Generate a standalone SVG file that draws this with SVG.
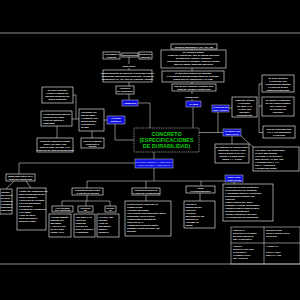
<svg xmlns="http://www.w3.org/2000/svg" width="300" height="300" viewBox="0 0 300 300">
<style>
.bx{fill:#000;stroke:#e6e6e6;stroke-width:0.65}
.bl{fill:#1010e0;stroke:#a8a8a8;stroke-width:0.6}
.c{fill:none;stroke:#d0d0d0;stroke-width:0.6}
.t{font-family:"Liberation Sans",Arial,sans-serif;font-size:2.4px;fill:#ffffff;font-weight:bold}
.m{text-anchor:middle}
.w{font-family:"Liberation Sans",Arial,sans-serif;font-size:2.4px;fill:#ffffff;text-anchor:middle;font-weight:bold}
.g{font-family:"Liberation Sans",Arial,sans-serif;font-size:5.3px;fill:#10d010;text-anchor:middle;font-weight:bold}
</style>
<rect width="300" height="300" fill="#000"/>
<line x1="0" y1="33" x2="300" y2="33" stroke="#b0b0b0" stroke-width="0.8"/>
<line x1="0" y1="264" x2="300" y2="264" stroke="#b0b0b0" stroke-width="0.8"/>

<g id="connectors" class="c">
<path d="M120,55 H122 M138,55 H139 M129,57 V64 M129,68 V70 M129,82 V86 M129,94 V100"/>
<path d="M138,103 H150 V128"/>
<path d="M192,49 V50 M192,68 V71 M192,82 V84 M192,91 V94 M192,99 V101"/>
<path d="M193,107 V128"/>
<path d="M259,84 H262 M259,84 V132.5 M259,106 H262 M259,132.5 H263"/>
<path d="M229,108 H232 M218,112 V132.5 M223,132.5 H199"/>
<path d="M232,136 V144 M241,136 L253,147"/>
<path d="M73,95 H76 V119 M72,119 H79 M104,120 H107 M57,126 V138 M92,131 V138"/>
<path d="M115,124 V140 H134"/>
<path d="M154,152 V159 M154,168 V181"/>
<path d="M19,163 H135 M19,163 V174 M14,181 L6,189 M26,181 L31,188"/>
<path d="M87,181 H225 M87,181 V188 M146,181 V188 M201,181 V186"/>
<path d="M87,195 V201 M62,201 H110 M62,201 V206 M86,201 V206 M110,201 V206"/>
<path d="M146,195 V201 M200,193 V201 M234,182 V184"/>
</g>

<g id="n-agregados"><rect class="bx" x="103" y="52" width="17" height="7"/><text class="t m" x="111.5" y="55">Agregados y</text><text class="t m" x="111.5" y="58">cemento</text></g>
<g id="n-dosif"><rect class="bx" x="122" y="53" width="16" height="4"/><text class="t m" x="130" y="56">Dosificación</text></g>
<g id="n-mezcla"><rect class="bx" x="139" y="52" width="13" height="7"/><text class="t m" x="145.5" y="55">Mezcla de</text><text class="t m" x="145.5" y="58">concreto</text></g>
<text class="t m" x="129" y="67">para cubrir</text>
<g id="n-requer"><rect class="bx" x="103" y="70" width="49" height="12"/><text class="t m" x="127.5" y="73.5">Requerimientos de acuerdo a la norma E.060 y</text><text class="t m" x="127.5" y="76.5">exigencias especiales del proyecto, en base a</text><text class="t m" x="127.5" y="79.5">parámetros (f'c, a/c, tipo de cemento, curado)</text></g>
<g id="n-factores"><rect class="bx" x="116" y="86" width="18" height="8"/><text class="t m" x="125" y="89">Factores</text><text class="t m" x="125" y="92">de exposición</text></g>
<g id="b-ambiente"><rect class="bl" x="122" y="100" width="16" height="6"/><text class="w" x="130" y="103.8">AMBIENTE</text></g>

<g id="r1"><rect class="bx" x="171" y="44" width="46" height="5"/><text class="t m" x="194" y="47.5">Bloques ampliados (ATC | 36 | 38)</text></g>
<g id="r2"><rect class="bx" x="161" y="50" width="65" height="18"/><text class="t m" x="193.5" y="53">Se clasifica según:</text><text class="t m" x="193.5" y="56">Grado de exposición, tipo de agente agresivo</text><text class="t m" x="193.5" y="59">Su ambiente: marino, industrial</text><text class="t m" x="193.5" y="62">Concentraciones de sulfatos, cloruros, ácidos,</text><text class="t m" x="193.5" y="65">(suelos, aguas, ambiente agresivo)</text></g>
<g id="r3"><rect class="bx" x="162" y="71" width="62" height="11"/><text class="t m" x="193" y="74">Se aplicará relación a/c máxima</text><text class="t m" x="193" y="77">y resistencia mínima según tabla de la norma,</text><text class="t m" x="193" y="80">según tipo de exposición (ACI 318)</text></g>
<g id="r4"><rect class="bx" x="172" y="84" width="44" height="7"/><text class="t m" x="194" y="87">Uso de aire incluido, cemento tipo,</text><text class="t m" x="194" y="90">aditivos, curado y protección</text></g>
<text class="t m" x="192" y="97.5">Durabilidad</text>
<g id="b-ataque"><rect class="bl" x="186" y="101" width="15" height="6"/><text class="w" x="193.5" y="104.8">ATAQUE</text></g>

<g id="r5"><rect class="bx" x="262" y="75" width="32" height="17"/><text class="t m" x="278" y="78.5">Se debe proteger</text><text class="t m" x="278" y="81.5">el refuerzo con</text><text class="t m" x="278" y="84.5">recubrimiento mínimo</text><text class="t m" x="278" y="87.5">y concreto denso</text><text class="t m" x="278" y="90.5">(baja permeabilidad)</text></g>
<g id="r6"><rect class="bx" x="232" y="97" width="25" height="20"/><text class="t m" x="244.5" y="100.5">Ambiente marino</text><text class="t m" x="244.5" y="103.5">y cloruros:</text><text class="t m" x="244.5" y="106.5">a/c máx. 0.40</text><text class="t m" x="244.5" y="109.5">f'c mín. 350</text><text class="t m" x="244.5" y="112.5">kg/cm2 y</text><text class="t m" x="244.5" y="115.5">recubrimiento</text></g>
<g id="r7"><rect class="bx" x="262" y="97" width="32" height="19"/><text class="t m" x="278" y="100.5">Se limita el contenido</text><text class="t m" x="278" y="103.5">de ión cloruro soluble</text><text class="t m" x="278" y="106.5">en el concreto</text><text class="t m" x="278" y="109.5">(% en peso del</text><text class="t m" x="278" y="112.5">cemento)</text></g>
<g id="b-corrosion"><rect class="bl" x="212" y="105" width="17" height="7"/><text class="w" x="220.5" y="108">CORROSIÓN</text><text class="w" x="220.5" y="110.8">DEL ACERO</text></g>
<g id="r8"><rect class="bx" x="263" y="126" width="32" height="12"/><text class="t m" x="279" y="129.5">Uso de cementos tipo</text><text class="t m" x="279" y="132.5">II o V, con puzolanas</text><text class="t m" x="279" y="135.5">o escorias</text></g>
<g id="b-sulfatos"><rect class="bl" x="223" y="129" width="18" height="7"/><text class="w" x="232" y="132">ATAQUE POR</text><text class="w" x="232" y="134.8">SULFATOS</text></g>
<g id="r9"><rect class="bx" x="215" y="144" width="34" height="19"/><text class="t m" x="232" y="147.5">Se clasifica en: despreciable,</text><text class="t m" x="232" y="150.5">moderado, severo y muy</text><text class="t m" x="232" y="153.5">severo según % de SO4</text><text class="t m" x="232" y="156.5">soluble en agua (ppm)</text><text class="t m" x="232" y="159.5">(Tabla 4.4 - E.060)</text></g>
<g id="r10"><rect class="bx" x="253" y="147" width="46" height="24"/><text class="t" x="255" y="150.5">▪ a/c máx. 0.50 (moderado)</text><text class="t" x="255" y="153.5">  f'c mín. 280 kg/cm2</text><text class="t" x="255" y="156.5">▪ a/c máx. 0.45 (severo y</text><text class="t" x="255" y="159.5">  muy severo), f'c mín. 315</text><text class="t" x="255" y="162.5">▪ Cemento tipo II, V o</text><text class="t" x="255" y="165.5">  tipo V + puzolana</text><text class="t" x="255" y="168.5">▪ Curado adecuado</text></g>
<g id="b-abrasion"><rect class="bl" x="225" y="175" width="18" height="7"/><text class="w" x="234" y="178">DESGASTE</text><text class="w" x="234" y="180.8">(ABRASIÓN)</text></g>
<g id="r11"><rect class="bx" x="223" y="184" width="50" height="37"/><text class="t" x="225" y="187.5">▪ Concreto de alta resistencia</text><text class="t" x="225" y="190.5">  en la superficie de desgaste</text><text class="t" x="225" y="193.5">▪ Agregados duros y resistentes</text><text class="t" x="225" y="196.5">  a la abrasión (ensayo Los</text><text class="t" x="225" y="199.5">  Ángeles)</text><text class="t" x="225" y="202.5">▪ Baja relación a/c, buen</text><text class="t" x="225" y="205.5">  acabado y curado prolongado</text><text class="t" x="225" y="208.5">▪ Endurecedores superficiales</text><text class="t" x="225" y="211.5">  en pisos industriales</text><text class="t" x="225" y="214.5">▪ Evitar exudación excesiva</text><text class="t" x="225" y="217.5">▪ f'c según uso del pavimento</text></g>

<g id="lu1"><rect class="bx" x="42" y="87" width="31" height="16"/><text class="t m" x="57.5" y="90.5">Se debe proteger</text><text class="t m" x="57.5" y="93.5">contra el ataque de</text><text class="t m" x="57.5" y="96.5">agentes químicos del</text><text class="t m" x="57.5" y="99.5">medio ambiente</text></g>
<g id="lu2"><rect class="bx" x="41" y="111" width="31" height="15"/><text class="t" x="43" y="114.5">▪ Permeabilidad baja del</text><text class="t" x="43" y="117.5">  concreto (a/c baja)</text><text class="t" x="43" y="120.5">▪ Uso de aditivos y</text><text class="t" x="43" y="123.5">  puzolanas</text></g>
<g id="lu3"><rect class="bx" x="79" y="109" width="25" height="22"/><text class="t" x="81" y="112.5">▪ Depende del</text><text class="t" x="81" y="115.5">  tipo de agua</text><text class="t" x="81" y="118.5">▪ Contacto con</text><text class="t" x="81" y="121.5">  aguas ácidas,</text><text class="t" x="81" y="124.5">  residuales o</text><text class="t" x="81" y="127.5">  de mar</text></g>
<g id="lu4"><rect class="bx" x="37" y="138" width="36" height="14"/><text class="t m" x="55" y="141.5">Concreto expuesto a agua</text><text class="t m" x="55" y="144.5">dulce: a/c máx. 0.50</text><text class="t m" x="55" y="147.5">agua de mar: a/c máx. 0.40</text><text class="t m" x="55" y="150.5">(concreto de baja permeabilidad)</text></g>
<g id="lu5"><rect class="bx" x="81" y="138" width="23" height="10"/><text class="t m" x="92.5" y="141.5">Uso de cemento</text><text class="t m" x="92.5" y="144.5">resistente a</text><text class="t m" x="92.5" y="147">ácidos</text></g>
<g id="b-quimico"><rect class="bl" x="107" y="116" width="18" height="8"/><text class="w" x="116" y="119.3">ATAQUE</text><text class="w" x="116" y="122.3">QUÍMICO</text></g>

<g id="central"><rect x="134" y="128" width="65" height="24" fill="#000" stroke="#c8c8c8" stroke-width="0.7" stroke-dasharray="1,0.8"/><text class="g" x="166.5" y="135.5">CONCRETO</text><text class="g" x="166.5" y="141.5">(ESPECIFICACIONES</text><text class="g" x="166.5" y="147.5">DE DURABILIDAD)</text></g>

<g id="b-congelamiento"><rect class="bl" x="135" y="159" width="38" height="9"/><text class="w" x="154" y="162.8" style="fill:#a8c0ff">CONGELAMIENTO Y DESHIELO</text><text class="w" x="154" y="166" style="fill:#a8c0ff">(CICLOS HIELO - DESHIELO)</text></g>

<g id="l1"><rect class="bx" x="6" y="174" width="29" height="7"/><text class="t m" x="20.5" y="177">Manifestaciones en el</text><text class="t m" x="20.5" y="180">concreto endurecido</text></g>
<g id="l2"><rect class="bx" x="0" y="189" width="12" height="25"/><text class="t" x="1" y="192.5">Fisuras</text><text class="t" x="1" y="195.5">por ciclos</text><text class="t" x="1" y="198.5">de hielo</text><text class="t" x="1" y="201.5">y deshielo</text><text class="t" x="1" y="204.5">(escamas,</text><text class="t" x="1" y="207.5">descasca-</text><text class="t" x="1" y="210.5">ramiento)</text></g>
<g id="l3"><rect class="bx" x="17" y="188" width="29" height="42"/><text class="t" x="19" y="191.5">▪ Daño por expansión del</text><text class="t" x="19" y="194.5">  agua congelada en los</text><text class="t" x="19" y="197.5">  poros capilares</text><text class="t" x="19" y="200.5">▪ Deterioro de la pasta</text><text class="t" x="19" y="203.5">  y de los agregados</text><text class="t" x="19" y="206.5">  no durables</text><text class="t" x="19" y="209.5">▪ Pérdida de resistencia</text><text class="t" x="19" y="212.5">  y de masa</text><text class="t" x="19" y="215.5">▪ Uso de sales</text><text class="t" x="19" y="218.5">  descongelantes</text><text class="t" x="19" y="221.5">  agrava el daño</text></g>
<g id="k1"><rect class="bx" x="72" y="188" width="31" height="7"/><text class="t m" x="87.5" y="191">Consideraciones para</text><text class="t m" x="87.5" y="194">el diseño de mezcla</text></g>
<g id="k2"><rect class="bx" x="52" y="206" width="21" height="6"/><text class="t m" x="62.5" y="208.7">Aire incluido</text><text class="t m" x="62.5" y="211.2">en el concreto</text></g>
<g id="k3"><rect class="bx" x="78" y="206" width="15" height="6"/><text class="t m" x="85.5" y="208.7">Relación</text><text class="t m" x="85.5" y="211.2">a/c</text></g>
<g id="k4"><rect class="bx" x="105" y="206" width="11" height="6"/><text class="t m" x="110.5" y="208.7">Resist.</text><text class="t m" x="110.5" y="211.2">f'c</text></g>
<g id="k5"><rect class="bx" x="49" y="214" width="22" height="23"/><text class="t" x="50.5" y="217.5">▪ Según tamaño</text><text class="t" x="50.5" y="220.5">  máximo del</text><text class="t" x="50.5" y="223.5">  agregado</text><text class="t" x="50.5" y="226.5">▪ 4.5% a 7.5%</text><text class="t" x="50.5" y="229.5">  de aire total</text><text class="t" x="50.5" y="232.5">  (Tabla 4.2.1)</text></g>
<g id="k6"><rect class="bx" x="74" y="214" width="21" height="23"/><text class="t" x="75.5" y="217.5">▪ a/c máx. 0.45</text><text class="t" x="75.5" y="220.5">  concreto</text><text class="t" x="75.5" y="223.5">  expuesto</text><text class="t" x="75.5" y="226.5">  a ciclos de</text><text class="t" x="75.5" y="229.5">  hielo y deshielo</text><text class="t" x="75.5" y="232.5">  y humedad</text></g>
<g id="k7"><rect class="bx" x="97" y="214" width="22" height="23"/><text class="t" x="98.5" y="217.5">▪ f'c mín. 315</text><text class="t" x="98.5" y="220.5">  kg/cm2</text><text class="t" x="98.5" y="223.5">▪ Uso de</text><text class="t" x="98.5" y="226.5">  agregados</text><text class="t" x="98.5" y="229.5">  sanos y</text><text class="t" x="98.5" y="232.5">  durables</text></g>
<g id="m1"><rect class="bx" x="132" y="188" width="28" height="7"/><text class="t m" x="146" y="191">Consideraciones en</text><text class="t m" x="146" y="194">el proceso constructivo</text></g>
<g id="m2"><rect class="bx" x="125" y="201" width="46" height="35"/><text class="t" x="127" y="204.5">Protección del concreto en</text><text class="t" x="127" y="207.5">  estado fresco</text><text class="t" x="127" y="210.5">▪ Curado adecuado</text><text class="t" x="127" y="213.5">▪ No colocar concreto sobre suelo</text><text class="t" x="127" y="216.5">  congelado, hielo o nieve</text><text class="t" x="127" y="219.5">▪ Temperatura mínima del</text><text class="t" x="127" y="222.5">  concreto 10°C</text><text class="t" x="127" y="225.5">▪ Mantener protegido hasta</text><text class="t" x="127" y="228.5">  alcanzar resistencia mín. (35</text><text class="t" x="127" y="231.5">  kg/cm2)</text></g>
<g id="n1"><rect class="bx" x="186" y="186" width="29" height="7"/><text class="t m" x="200.5" y="189">Otras</text><text class="t m" x="200.5" y="192">recomendaciones</text></g>
<g id="n2"><rect class="bx" x="184" y="201" width="31" height="27"/><text class="t" x="185.5" y="204.5">▪ Evitar la</text><text class="t" x="185.5" y="207.5">  saturación del</text><text class="t" x="185.5" y="210.5">  concreto</text><text class="t" x="185.5" y="213.5">▪ Drenaje</text><text class="t" x="185.5" y="216.5">  adecuado de las</text><text class="t" x="185.5" y="219.5">  superficies</text><text class="t" x="185.5" y="222.5">▪ Sellado de</text><text class="t" x="185.5" y="225.5">  juntas</text></g>

<g id="title-block">
<rect x="231" y="227" width="69" height="37" fill="none" stroke="#d0d0d0" stroke-width="0.6"/>
<line x1="264" y1="227" x2="264" y2="264" stroke="#d0d0d0" stroke-width="0.6"/>
<line x1="231" y1="243" x2="300" y2="243" stroke="#d0d0d0" stroke-width="0.6"/>
<text class="t" x="233" y="230.5">CENTRAL:</text><text class="t" x="233" y="233.5">ESPECIFICACIONES</text><text class="t" x="233" y="236.5">DE DURABILIDAD</text><text class="t" x="233" y="239.5">DEL CONCRETO</text>
<text class="t" x="266" y="230.5">ESTUDIANTE:</text><text class="t" x="266" y="233.5">XXXXX XXXXX XXXX</text><text class="t" x="266" y="236.5">XXXXXXX</text>
<text class="t" x="233" y="246.5">CURSO:</text><text class="t" x="233" y="249.5">TECNOLOGÍA DEL</text><text class="t" x="233" y="252.5">CONCRETO</text><text class="t" x="233" y="255.5">CATEDRÁTICO:</text><text class="t" x="233" y="258.5">ING. XXXXXX</text>
<text class="t" x="266" y="246.5">LÁMINA N°:</text><text class="t" x="266" y="252.5">FECHA: 2014</text><text class="t" x="266" y="255.5">ESCALA: S/E</text>
</g>
</svg>
